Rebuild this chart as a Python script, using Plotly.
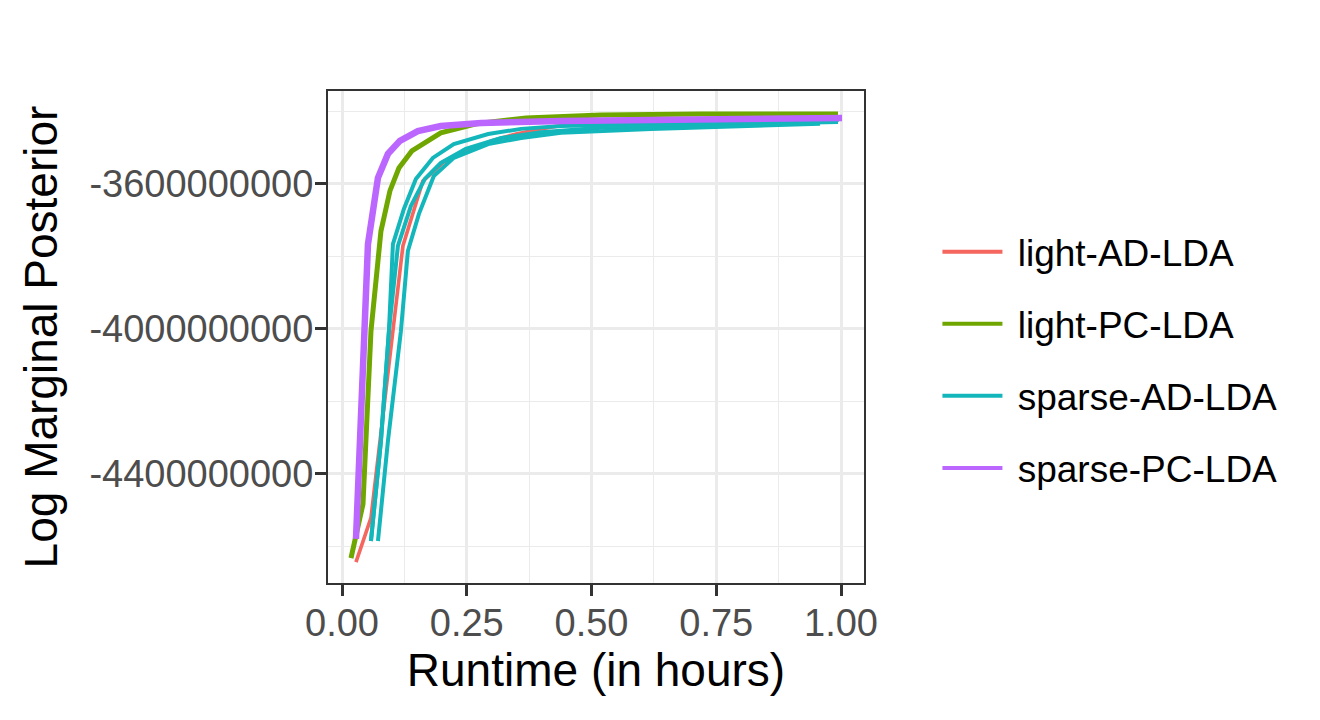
import plotly.graph_objects as go

# ---- data (runtime in hours, log marginal posterior) ----
methods = ["light-AD-LDA", "light-PC-LDA", "sparse-AD-LDA", "sparse-PC-LDA"]
colors = ["#F5665F", "#6FA600", "#13B6BA", "#BB66FF"]

light_ad_x = [0.028, 0.058, 0.122, 0.162, 0.204, 0.248, 0.299, 0.349, 0.399, 0.459, 0.519, 0.719, 0.996]
light_ad_y = [-4643e6, -4521e6, -3771e6, -3592e6, -3539e6, -3509e6, -3481e6, -3462e6, -3448e6,
              -3434e6, -3429e6, -3423e6, -3421e6]

light_pc_x = [0.018, 0.026, 0.042, 0.058, 0.078, 0.096, 0.114, 0.140, 0.172, 0.198, 0.269, 0.369,
              0.519, 0.719, 0.994]
light_pc_y = [-4632e6, -4579e6, -4483e6, -4006e6, -3730e6, -3619e6, -3556e6, -3509e6, -3481e6,
              -3459e6, -3434e6, -3418e6, -3410e6, -3407e6, -3407e6]

sparse_ad_run1_x = [0.058, 0.078, 0.094, 0.102, 0.124, 0.148, 0.182, 0.224, 0.293, 0.359, 0.439,
                    0.619, 0.820, 0.996]
sparse_ad_run1_y = [-4585e6, -4309e6, -4006e6, -3766e6, -3669e6, -3586e6, -3528e6, -3490e6,
                    -3462e6, -3448e6, -3440e6, -3434e6, -3429e6, -3423e6]
sparse_ad_run2_x = [0.058, 0.078, 0.094, 0.112, 0.138, 0.166, 0.198, 0.248, 0.319, 0.399, 0.519,
                    0.719, 0.994]
sparse_ad_run2_y = [-4585e6, -4309e6, -4006e6, -3771e6, -3661e6, -3586e6, -3542e6, -3503e6,
                    -3473e6, -3457e6, -3445e6, -3437e6, -3429e6]
sparse_ad_run3_x = [0.072, 0.092, 0.118, 0.132, 0.154, 0.184, 0.224, 0.293, 0.359, 0.439, 0.619,
                    0.800, 0.958]
sparse_ad_run3_y = [-4585e6, -4309e6, -4006e6, -3785e6, -3683e6, -3578e6, -3528e6, -3490e6,
                    -3473e6, -3459e6, -3448e6, -3440e6, -3434e6]

sparse_pc_x = [0.028, 0.044, 0.052, 0.072, 0.092, 0.116, 0.152, 0.198, 0.279, 0.439, 0.639, 0.840, 1.002]
sparse_pc_y = [-4579e6, -4006e6, -3766e6, -3583e6, -3517e6, -3481e6, -3454e6, -3440e6, -3432e6,
               -3426e6, -3423e6, -3421e6, -3418e6]

x_tick_vals = [0.0, 0.25, 0.5, 0.75, 1.0]
x_tick_text = ["0.00", "0.25", "0.50", "0.75", "1.00"]
y_tick_vals = [-4400e6, -4000e6, -3600e6]
y_tick_text = ["-4400000000", "-4000000000", "-3600000000"]

runs = [
    (0, light_ad_x, light_ad_y, 3.6),
    (1, light_pc_x, light_pc_y, 5.0),
    (2, sparse_ad_run1_x, sparse_ad_run1_y, 4.0),
    (2, sparse_ad_run2_x, sparse_ad_run2_y, 4.0),
    (2, sparse_ad_run3_x, sparse_ad_run3_y, 4.0),
    (3, sparse_pc_x, sparse_pc_y, 6.5),
]

fig = go.Figure()
for mi, xs, ys, w in runs:
    fig.add_trace(go.Scatter(
        x=xs, y=ys, mode="lines", name=methods[mi],
        line=dict(color=colors[mi], width=w),
        legendgroup=methods[mi], showlegend=False,
    ))

# legend entries with a uniform key line width (as in the reference key)
for mi, m in enumerate(methods):
    fig.add_trace(go.Scatter(
        x=[None], y=[None], mode="lines", name="\u00a0" + m,
        line=dict(color=colors[mi], width=4),
        legendgroup=m, showlegend=True, hoverinfo="skip",
    ))

font_family = "Liberation Sans, Arial, sans-serif"
axis_common = dict(
    showline=True, mirror=True, linecolor="#333333", linewidth=2,
    showgrid=True, gridcolor="#EBEBEB", gridwidth=2.8,
    ticks="outside", ticklen=11, tickwidth=2.8, tickcolor="#333333",
    tickfont=dict(family=font_family, size=38, color="#4D4D4D"),
    zeroline=False, ticklabelstandoff=-6,
)

fig.update_layout(
    width=1320, height=720,
    paper_bgcolor="white", plot_bgcolor="white",
    margin=dict(l=320, r=464, t=83, b=145),
    font=dict(family=font_family, color="black"),
    xaxis=dict(
        range=[-0.0281, 1.0461], tickvals=x_tick_vals, ticktext=x_tick_text,
        minor=dict(showgrid=True, gridcolor="#EBEBEB", gridwidth=1.4, dtick=0.125, tick0=0.125),
        title=dict(text="Runtime (in hours)", font=dict(size=46, color="black"), standoff=4),
        **axis_common,
    ),
    yaxis=dict(
        range=[-4700.7e6, -3343.5e6], tickvals=y_tick_vals, ticktext=y_tick_text,
        minor=dict(showgrid=True, gridcolor="#EBEBEB", gridwidth=1.4, dtick=200e6, tick0=-3400e6),
        title=dict(text="Log Marginal Posterior", font=dict(size=46, color="black"), standoff=17),
        **axis_common,
    ),
    legend=dict(
        x=1.137, y=0.453, xanchor="left", yanchor="middle",
        font=dict(size=37, color="black"), tracegroupgap=21,
        itemwidth=60,
        bgcolor="rgba(0,0,0,0)",
    ),
)

fig.write_html("out.html")
